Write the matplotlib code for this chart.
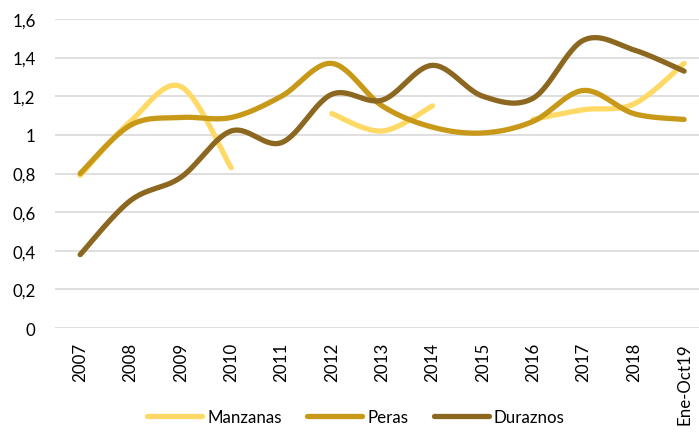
import numpy as np
import matplotlib
matplotlib.use("Agg")
import matplotlib.pyplot as plt
from matplotlib.lines import Line2D

plt.rcParams['font.family'] = ['Lato', 'DejaVu Sans']

categories = ['2007', '2008', '2009', '2010', '2011', '2012', '2013', '2014',
              '2015', '2016', '2017', '2018', 'Ene-Oct19']
manzanas = [0.79, 1.07, 1.25, 0.83, None, 1.11, 1.02, 1.15, None, 1.08, 1.13, 1.16, 1.37]
peras = [0.80, 1.05, 1.09, 1.09, 1.20, 1.37, 1.15, 1.04, 1.01, 1.07, 1.23, 1.11, 1.08]
duraznos = [0.38, 0.66, 0.78, 1.02, 0.96, 1.21, 1.18, 1.36, 1.20, 1.19, 1.49, 1.44, 1.33]
yticks = [0, 0.2, 0.4, 0.6, 0.8, 1.0, 1.2, 1.4, 1.6]
ytick_labels = ['0', '0,2', '0,4', '0,6', '0,8', '1', '1,2', '1,4', '1,6']

series = [('Manzanas', manzanas, '#FFD966'),
          ('Peras', peras, '#C89818'),
          ('Duraznos', duraznos, '#8B6720')]


def smooth(xs, ys, n=30):
    xs = np.asarray(xs, float)
    ys = np.asarray(ys, float)
    if len(xs) < 2:
        return xs, ys
    px = np.concatenate([[xs[0]], xs, [xs[-1]]])
    py = np.concatenate([[ys[0]], ys, [ys[-1]]])
    outx, outy = [], []
    for i in range(1, len(px) - 2):
        p0x, p1x, p2x, p3x = px[i-1], px[i], px[i+1], px[i+2]
        p0y, p1y, p2y, p3y = py[i-1], py[i], py[i+1], py[i+2]
        c1x = p1x + (p2x - p0x) / 6
        c1y = p1y + (p2y - p0y) / 6
        c2x = p2x - (p3x - p1x) / 6
        c2y = p2y - (p3y - p1y) / 6
        t = np.linspace(0, 1, n)
        bx = (1-t)**3*p1x + 3*(1-t)**2*t*c1x + 3*(1-t)*t**2*c2x + t**3*p2x
        by = (1-t)**3*p1y + 3*(1-t)**2*t*c1y + 3*(1-t)*t**2*c2y + t**3*p2y
        outx.append(bx)
        outy.append(by)
    return np.concatenate(outx), np.concatenate(outy)


fig = plt.figure(figsize=(6.99, 4.35), dpi=100)
ax = fig.add_axes([55/699, 1-329/435, 644/699, (329-20)/435])

x = np.arange(len(categories))
for name, vals, col in series:
    segx, segy = [], []
    for xi, v in zip(x, vals):
        if v is None:
            if segx:
                sx, sy = smooth(segx, segy)
                ax.plot(sx, sy, color=col, lw=3.8, solid_capstyle='round', solid_joinstyle='round')
            segx, segy = [], []
        else:
            segx.append(xi)
            segy.append(v)
    if segx:
        sx, sy = smooth(segx, segy)
        ax.plot(sx, sy, color=col, lw=3.8, solid_capstyle='round', solid_joinstyle='round')

ax.set_ylim(0, 1.6)
ax.set_xlim(-0.5, -0.5 + 644/50.33)
ax.set_yticks(yticks)
ax.set_yticklabels(ytick_labels, fontsize=12.2)
ax.set_xticks(x)
ax.set_xticklabels(categories, rotation=90, fontsize=12.2)
ax.tick_params(axis='both', length=0, colors='black')
ax.tick_params(axis='y', pad=14)
ax.tick_params(axis='x', pad=10)
ax.grid(axis='y', color='#D9D9D9', lw=1.2)
ax.set_axisbelow(True)
for s in ax.spines.values():
    s.set_visible(False)

handles = [Line2D([0], [0], color=c, lw=3.8, solid_capstyle='round') for _, _, c in series]
fig.legend(handles, [n for n, _, _ in series], loc='center', bbox_to_anchor=(356/699, 1-418/435),
           ncol=3, frameon=False, fontsize=12.2, handlelength=3.25, columnspacing=1.5, handletextpad=0.3)

fig.savefig('out.png', dpi=100)
